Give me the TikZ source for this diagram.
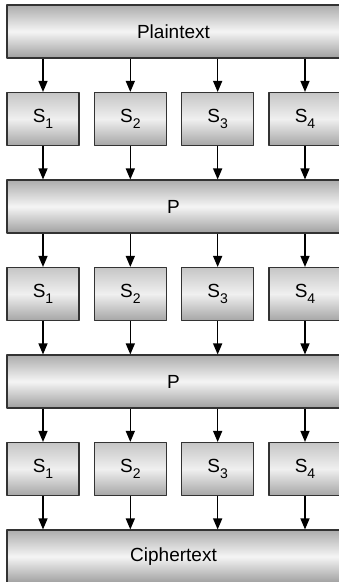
\documentclass[tikz,border=0pt]{standalone}
\usepackage{fontspec}
\setmainfont{Liberation Sans}
\usetikzlibrary{arrows.meta}
\newcommand\Ssub[1]{S\raisebox{-0.55ex}{\fontsize{14}{14}\selectfont #1}}

\begin{document}
\begin{tikzpicture}[x=1pt,y=-1pt,>={Triangle[length=11pt,width=9pt]}, font=\fontsize{19}{19}\selectfont, line join=round]
	\tikzset{
		wide/.style={draw=black!80, line width=1.1pt, minimum width=339pt, minimum height=53pt, top color=gray!65, bottom color=gray!75, middle color=gray!8, inner sep=0pt},
		sbox/.style={draw=black!80, line width=1.1pt, minimum width=72pt, minimum height=53pt, top color=gray!45, bottom color=gray!70, middle color=gray!12, inner sep=0pt},
		flow/.style={->, line width=1.3pt}
	}
	\def\dy{87.5} \def\dx{87.33} % pas
	\useasboundingbox (0,0) rectangle (338,582);
	% grandes boites
	\node[wide] (p0) at (176.5,31.5) {\hspace*{-6pt}Plaintext};
	\node[wide] (p1) at (176.5,31.5+2*\dy) {\hspace*{-6pt}P};
	\node[wide] (p2) at (176.5,31.5+4*\dy) {\hspace*{-6pt}P};
	\node[wide] (p3) at (176.5,31.5+6*\dy) {\hspace*{-6pt}Ciphertext};
	% boites S
	\foreach \i in {1,2,3}{
		\foreach \j in {1,...,4}{
			\node[sbox] (s\i-\j) at ({43+(\j-1)*\dx},{31.5+(2*\i-1)*\dy}) {\Ssub{\j}};
		}
	}
	% fleches
	\foreach \i [evaluate=\i as \k using int(\i-1)] in {1,2,3}{
		\foreach \j in {1,...,4}{
			\draw[flow] (s\i-\j |- p\k.south) -- (s\i-\j.north);
			\draw[flow] (s\i-\j.south) -- (s\i-\j |- p\i.north);
		}
	}
\end{tikzpicture}
\end{document}
